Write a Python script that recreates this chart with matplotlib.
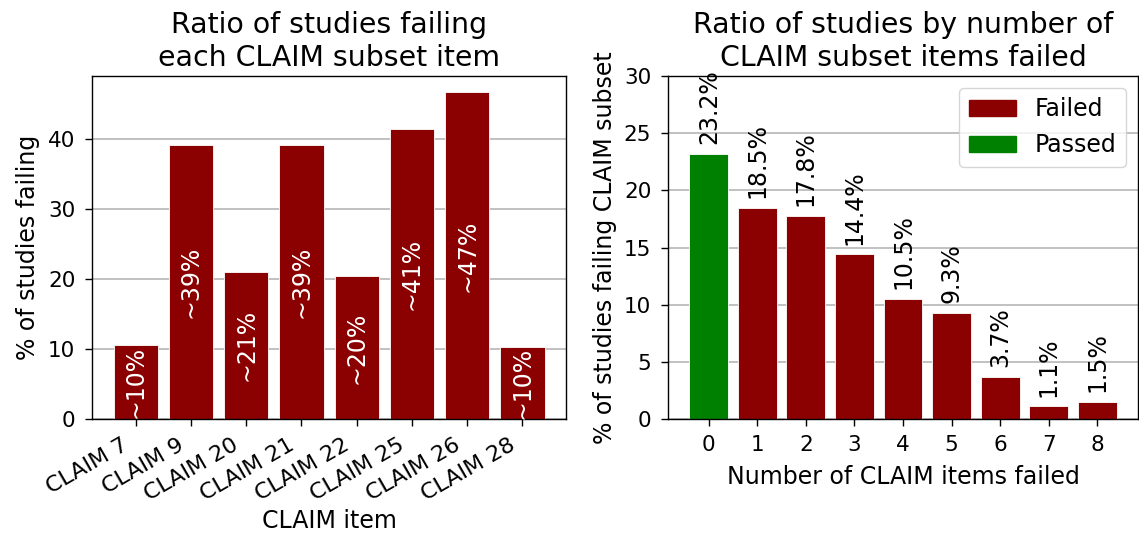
import matplotlib
matplotlib.use("Agg")
import matplotlib.pyplot as plt
from matplotlib.patches import Patch
from matplotlib.transforms import ScaledTranslation

# left chart: share of studies failing each CLAIM item
claim_items = ["CLAIM 7", "CLAIM 9", "CLAIM 20", "CLAIM 21",
               "CLAIM 22", "CLAIM 25", "CLAIM 26", "CLAIM 28"]
fail_pct = [10.5, 39.1, 21.0, 39.1, 20.4, 41.4, 46.6, 10.3]
fail_labels = ["~10%", "~39%", "~21%", "~39%", "~20%", "~41%", "~47%", "~10%"]

# right chart: share of studies by number of items failed
n_failed = [0, 1, 2, 3, 4, 5, 6, 7, 8]
study_pct = [23.2, 18.5, 17.8, 14.4, 10.5, 9.3, 3.7, 1.1, 1.5]

FS = 17      # labels, titles, annotations
TICK_FS = 15.5

plt.rcParams.update({
    "font.size": FS,
    "xtick.labelsize": TICK_FS,
    "ytick.labelsize": TICK_FS,
    "axes.linewidth": 1.0,
    "xtick.major.size": 5,
    "ytick.major.size": 5,
    "xtick.major.width": 1.0,
    "ytick.major.width": 1.0,
    "xtick.major.pad": 6.5,
    "ytick.major.pad": 7,
    "axes.titlepad": 7.5,
    "axes.labelpad": 5,
})

fig = plt.figure(figsize=(11.39, 5.42), dpi=100)
ax1 = fig.add_axes([0.0808, 0.2269, 0.4162, 0.6328])
ax2 = fig.add_axes([0.5865, 0.2269, 0.4126, 0.6328])

# --- left
x1 = list(range(len(claim_items)))
ax1.bar(x1, fail_pct, width=0.8, color="darkred", edgecolor="white", linewidth=0.6)
for xi, v, lab in zip(x1, fail_pct, fail_labels):
    ax1.text(xi, v / 2, lab, rotation=90, ha="center", va="center",
             color="white", fontsize=FS)
ax1.set_xticks(x1)
ax1.set_xticklabels(claim_items, rotation=30, ha="right", fontsize=16)
shift = ScaledTranslation(-4 / 100, 0, fig.dpi_scale_trans)
for lbl in ax1.get_xticklabels():
    lbl.set_transform(lbl.get_transform() + shift)
ax1.set_yticks([0, 10, 20, 30, 40])
ax1.set_xlabel("CLAIM item", labelpad=3)
ax1.set_ylabel("% of studies failing", labelpad=6)
ax1.set_title("Ratio of studies failing\neach CLAIM subset item")
ax1.grid(axis="y", color="#b0b0b0", linewidth=1.1)
ax1.set_axisbelow(True)

# --- right
colors = ["green" if n == 0 else "darkred" for n in n_failed]
ax2.bar(n_failed, study_pct, width=0.8, color=colors, edgecolor="white", linewidth=0.6)
for xi, v in zip(n_failed, study_pct):
    ax2.annotate(f"{v}%", (xi, v), xytext=(0, 7), textcoords="offset points",
                 rotation=90, ha="center", va="bottom", fontsize=FS)
ax2.set_ylim(0, 30)
ax2.set_xticks(n_failed)
ax2.set_xlabel("Number of CLAIM items failed", labelpad=7)
ax2.set_ylabel("% of studies failing CLAIM subset", labelpad=5)
ax2.set_title("Ratio of studies by number of\nCLAIM subset items failed")
ax2.grid(axis="y", color="#b0b0b0", linewidth=1.1)
ax2.set_axisbelow(True)
ax2.legend(handles=[Patch(color="darkred", label="Failed"),
                    Patch(color="green", label="Passed")],
           loc="upper right")

fig.savefig("out.png", dpi=100)
